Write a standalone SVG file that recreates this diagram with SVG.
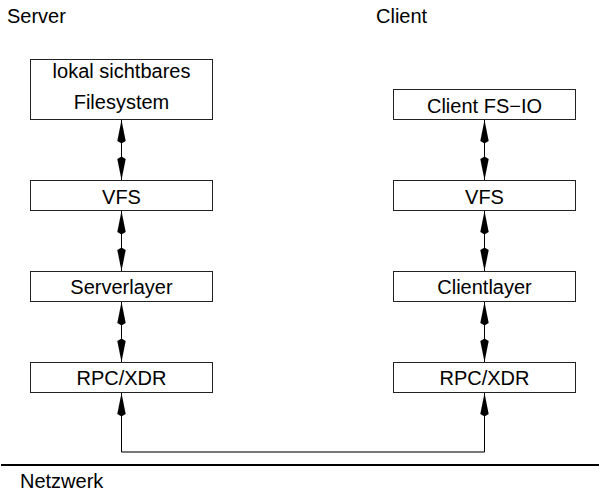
<svg xmlns="http://www.w3.org/2000/svg" width="599" height="491" viewBox="0 0 599 491">
<style>
.box{fill:#fff;stroke:#222;stroke-width:1}
.t{font-family:"Liberation Sans",Arial,sans-serif;font-size:20px;fill:#000}
.c{text-anchor:middle}
.ln{stroke:#000;stroke-width:1;fill:none}
</style>
<defs>
<marker id="ah" markerUnits="userSpaceOnUse" markerWidth="30" markerHeight="14" viewBox="-27 -7 29 14" refX="0" refY="0" orient="auto-start-reverse">
<path d="M0,0 L-21,-4.2 L-23.5,0 L-21,4.2 Z" fill="#000"/>
</marker>
</defs>
<rect width="599" height="491" fill="#fff"/>
<text class="t" x="7" y="23">Server</text>
<text class="t" x="376" y="23">Client</text>
<g id="s_fs"><rect class="box" x="30.5" y="59.5" width="182" height="60"/><text class="t c" x="121.5" y="77.5">lokal sichtbares</text><text class="t c" x="121.5" y="108.5">Filesystem</text></g>
<g id="s_vfs"><rect class="box" x="30.5" y="180.5" width="182" height="30"/><text class="t c" x="121.5" y="203.5">VFS</text></g>
<g id="s_layer"><rect class="box" x="30.5" y="271.5" width="182" height="30"/><text class="t c" x="121.5" y="293.5">Serverlayer</text></g>
<g id="s_rpc"><rect class="box" x="30.5" y="362.5" width="182" height="30"/><text class="t c" x="121.5" y="385">RPC/XDR</text></g>
<g id="c_fs"><rect class="box" x="393.5" y="89.5" width="182" height="30"/><text class="t c" x="484.5" y="113">Client FS−IO</text></g>
<g id="c_vfs"><rect class="box" x="393.5" y="180.5" width="182" height="30"/><text class="t c" x="484.5" y="203.5">VFS</text></g>
<g id="c_layer"><rect class="box" x="393.5" y="271.5" width="182" height="30"/><text class="t c" x="484.5" y="293.5">Clientlayer</text></g>
<g id="c_rpc"><rect class="box" x="393.5" y="362.5" width="182" height="30"/><text class="t c" x="484.5" y="385">RPC/XDR</text></g>
<g id="connectors">
<line class="ln" x1="121.5" y1="120" x2="121.5" y2="180" marker-start="url(#ah)" marker-end="url(#ah)"/>
<line class="ln" x1="121.5" y1="211" x2="121.5" y2="271" marker-start="url(#ah)" marker-end="url(#ah)"/>
<line class="ln" x1="121.5" y1="302" x2="121.5" y2="362" marker-start="url(#ah)" marker-end="url(#ah)"/>
<line class="ln" x1="484.5" y1="120" x2="484.5" y2="180" marker-start="url(#ah)" marker-end="url(#ah)"/>
<line class="ln" x1="484.5" y1="211" x2="484.5" y2="271" marker-start="url(#ah)" marker-end="url(#ah)"/>
<line class="ln" x1="484.5" y1="302" x2="484.5" y2="362" marker-start="url(#ah)" marker-end="url(#ah)"/>
<line x1="121.5" y1="452" x2="484.5" y2="452" stroke="#777" stroke-width="2"/>
<line class="ln" x1="121.5" y1="452" x2="121.5" y2="393" marker-end="url(#ah)"/>
<line class="ln" x1="484.5" y1="452" x2="484.5" y2="393" marker-end="url(#ah)"/>
</g>
<line x1="1" y1="465" x2="599" y2="465" stroke="#000" stroke-width="2"/>
<text class="t" x="20" y="488">Netzwerk</text>
</svg>
